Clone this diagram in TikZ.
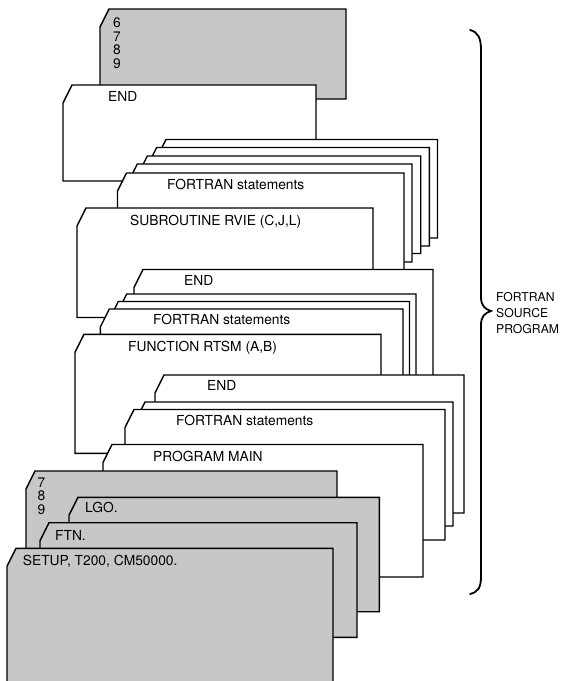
\documentclass[tikz,border=0pt]{standalone}
\usepackage{fontspec}
\setmainfont{TeX Gyre Heros}
\definecolor{cardgray}{gray}{0.78}
\tikzset{
  cardline/.style={line width=1.4pt, line join=miter},
  whitecard/.style={cardline, draw=black, fill=white},
  graycard/.style={cardline, draw=black, fill=cardgray},
  lbl/.style={anchor=base west, inner sep=0pt, font=\fontsize{13.8}{15}\selectfont},
  bracestyle/.style={line width=1.8pt, line cap=round},
}
\newcommand\deckcard[5]{% style, left, top, right, bottom
  \path[#1] (#2,#5) -- (#2,#3+18) -- (#2+9,#3) -- (#4,#3) -- (#4,#5) -- cycle;
}
\begin{document}
\begin{tikzpicture}[x=1pt,y=-1pt]
\useasboundingbox (0,0) rectangle (562,681);
\clip (0,0) rectangle (562,681);
% top gray card
\deckcard{graycard}{100}{9}{346}{99}
\node[lbl] (d6) at (113,27) {6};
\node[lbl] (d7) at (113,41) {7};
\node[lbl] (d8) at (113,54.5) {8};
\node[lbl] (d9) at (113,68) {9};
% END card (top)
\deckcard{whitecard}{63}{85}{316}{181}
\node[lbl] (end1) at (108,101.5) {END};
% stack behind FORTRAN statements (top)
\deckcard{whitecard}{157}{139.5}{437.5}{238}
\deckcard{whitecard}{147.7}{147.5}{429.3}{246}
\deckcard{whitecard}{138.3}{156}{420.7}{253.5}
\deckcard{whitecard}{128.3}{164}{412}{262}
\deckcard{whitecard}{117.5}{173}{404}{280}
\node[lbl] (fs1) at (167,189.3) {FORTRAN statements};
% SUBROUTINE
\deckcard{whitecard}{77}{208}{373}{317.5}
\node[lbl] (sub) at (130,225) {SUBROUTINE RVIE (C,J,L)};
% middle group
\deckcard{whitecard}{134}{269.5}{433}{390}
\node[lbl] (end2) at (184,285.3) {END};
\deckcard{whitecard}{117.7}{294}{416}{390}
\deckcard{whitecard}{109.3}{301.5}{409.5}{390}
\deckcard{whitecard}{100.3}{309}{403}{390}
\node[lbl] (fs2) at (153,324) {FORTRAN statements};
% FUNCTION
\deckcard{whitecard}{75}{334.3}{381}{453.3}
\node[lbl] (fun) at (128,351.5) {FUNCTION RTSM (A,B)};
% bottom group
\deckcard{whitecard}{155}{375}{464}{513}
\node[lbl] (end3) at (207,390) {END};
\deckcard{whitecard}{136}{402}{453}{526}
\deckcard{whitecard}{125}{409.5}{445}{540}
\node[lbl] (fs3) at (176,425) {FORTRAN statements};
\deckcard{whitecard}{103}{444.5}{423}{577}
\node[lbl] (prog) at (153,461.7) {PROGRAM MAIN};
% gray control cards
\deckcard{graycard}{26}{471}{337}{600}
\node[lbl] (e7) at (37.5,487) {7};
\node[lbl] (e8) at (37.5,500.5) {8};
\node[lbl] (e9) at (37.5,514) {9};
\deckcard{graycard}{69}{497.3}{379.3}{611.7}
\node[lbl] (lgo) at (85,512.7) {LGO.};
\deckcard{graycard}{40}{522.7}{357}{637.3}
\node[lbl] (ftn) at (55,540.7) {FTN.};
\deckcard{graycard}{7}{548.3}{333}{690}
\node[lbl] (setup) at (22.7,565.7) {SETUP, T200, CM50000.};
% brace
\draw[bracestyle] (470,30) .. controls (478,32) and (481,38) .. (481,50)
  -- (481,297) .. controls (481,306) and (485,309) .. (491,311)
  .. controls (485,313) and (481,316) .. (481,325)
  -- (481,576) .. controls (481,588) and (478,592) .. (470,594);
\node[lbl, align=left, anchor=west, font=\fontsize{12.2}{16}\selectfont] (src) at (496,313) {FORTRAN\\SOURCE\\PROGRAM};
\end{tikzpicture}
\end{document}
